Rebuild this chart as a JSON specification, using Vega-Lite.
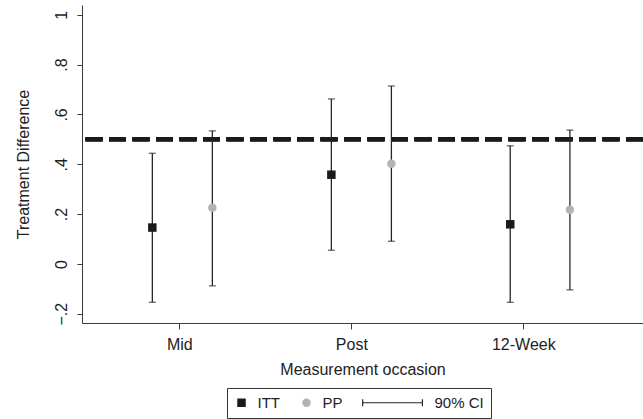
{
  "$schema": "https://vega.github.io/schema/vega-lite/v6.json",
  "width": 561,
  "height": 318,
  "autosize": {"type": "none"},
  "padding": {"left": 82, "top": 5, "right": 0, "bottom": 96},
  "background": "white",
  "config": {
    "font": "Liberation Sans",
    "view": {"stroke": null},
    "axis": {
      "grid": false,
      "domainColor": "#3a3a3a",
      "tickColor": "#3a3a3a",
      "labelColor": "#222222",
      "titleColor": "#222222",
      "labelFontSize": 16,
      "titleFontSize": 16,
      "titleFontWeight": "normal",
      "labelFont": "Liberation Sans",
      "titleFont": "Liberation Sans"
    },
    "legend": {"labelFont": "Liberation Sans", "strokeColor": "#333333"}
  },
  "data": {
    "values": [
      {"occasion": "Mid", "group": "ITT", "pos": 0.843, "est": 0.146, "lo": -0.154, "hi": 0.444},
      {"occasion": "Mid", "group": "PP", "pos": 1.192, "est": 0.225, "lo": -0.088, "hi": 0.534},
      {"occasion": "Post", "group": "ITT", "pos": 1.884, "est": 0.358, "lo": 0.055, "hi": 0.662},
      {"occasion": "Post", "group": "PP", "pos": 2.233, "est": 0.402, "lo": 0.091, "hi": 0.714},
      {"occasion": "12-Week", "group": "ITT", "pos": 2.924, "est": 0.159, "lo": -0.154, "hi": 0.474},
      {"occasion": "12-Week", "group": "PP", "pos": 3.271, "est": 0.217, "lo": -0.104, "hi": 0.537}
    ]
  },
  "layer": [
    {
      "mark": {"type": "rule", "color": "#1a1a1a", "strokeWidth": 4, "strokeDash": [17, 6.5]},
      "encoding": {"y": {"datum": 0.5, "type": "quantitative"}}
    },
    {
      "mark": {"type": "rule", "color": "#262626", "strokeWidth": 1.3},
      "encoding": {
        "x": {
          "field": "pos",
          "type": "quantitative",
          "scale": {"domain": [0.434, 3.696], "nice": false, "zero": false},
          "axis": {
            "title": "Measurement occasion",
            "values": [1, 2, 3],
            "labelExpr": "datum.value < 1.5 ? 'Mid' : datum.value < 2.5 ? 'Post' : '12-Week'",
            "tickSize": 6,
            "labelPadding": 7,
            "titlePadding": 9
          }
        },
        "y": {
          "field": "lo",
          "type": "quantitative",
          "scale": {"domain": [-0.237, 1.039], "nice": false, "zero": false},
          "axis": {
            "title": "Treatment Difference",
            "values": [-0.2, 0, 0.2, 0.4, 0.6, 0.8, 1],
            "labelExpr": "datum.label == '0.0' ? '0' : replace(replace(datum.label, '0.', '.'), '1.0', '1')",
            "format": ".1f",
            "labelAngle": -90,
            "labelAlign": "center",
            "labelBaseline": "bottom",
            "tickSize": 5,
            "labelPadding": 8,
            "titlePadding": 22
          }
        },
        "y2": {"field": "hi"}
      }
    },
    {
      "mark": {"type": "tick", "color": "#262626", "thickness": 1.3, "size": 7, "orient": "horizontal"},
      "encoding": {
        "x": {"field": "pos", "type": "quantitative"},
        "y": {"field": "lo", "type": "quantitative"}
      }
    },
    {
      "mark": {"type": "tick", "color": "#262626", "thickness": 1.3, "size": 7, "orient": "horizontal"},
      "encoding": {
        "x": {"field": "pos", "type": "quantitative"},
        "y": {"field": "hi", "type": "quantitative"}
      }
    },
    {
      "mark": {"type": "point", "filled": true, "opacity": 1, "size": 72},
      "encoding": {
        "x": {"field": "pos", "type": "quantitative"},
        "y": {"field": "est", "type": "quantitative"},
        "color": {
          "field": "group",
          "type": "nominal",
          "scale": {"domain": ["ITT", "PP", "90% CI"], "range": ["#1a1a1a", "#b3b3b3", "#262626"]},
          "legend": {
            "title": null,
            "orient": "none",
            "legendX": 145,
            "legendY": 383,
            "direction": "horizontal",
            "symbolSize": 72,
            "labelFontSize": 15,
            "labelColor": "#222222",
            "labelOffset": 8.5,
            "columnPadding": 19,
            "padding": 7,
            "labelExpr": "datum.label == 'PP' ? 'PP             ' : datum.label"
          }
        },
        "shape": {
          "field": "group",
          "type": "nominal",
          "scale": {
            "domain": ["ITT", "PP", "90% CI"],
            "range": ["square", "circle", "M-13.3,-0.14H1.06V0.14H-13.3Z M-13.3,-0.83H-13.02V0.83H-13.3Z M0.78,-0.83H1.06V0.83H0.78Z"]
          }
        }
      }
    }
  ]
}
